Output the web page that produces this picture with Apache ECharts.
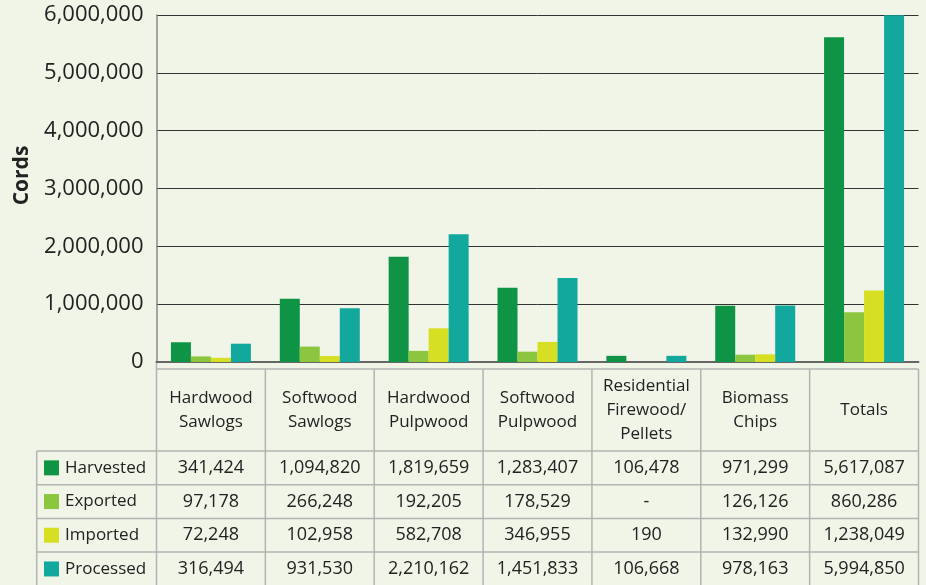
<!DOCTYPE html>
<html>
<head>
    <meta charset="UTF-8">
    <title>Wood Flows by Product</title>
    <script src="https://cdn.jsdelivr.net/npm/echarts/dist/echarts.min.js"></script>
    <style>
        body { margin: 0; background: #f0f5e8; }
    </style>
</head>
<body>
<div id="chart" style="width: 926px; height: 585px;"></div>

<script>
    const categories = ['Hardwood\nSawlogs', 'Softwood\nSawlogs', 'Hardwood\nPulpwood', 'Softwood\nPulpwood',
        'Residential\nFirewood/\nPellets', 'Biomass\nChips', 'Totals'];
    const seriesNames = ['Harvested', 'Exported', 'Imported', 'Processed'];
    const harvested = [341424, 1094820, 1819659, 1283407, 106478, 971299, 5617087];
    const exported = [97178, 266248, 192205, 178529, null, 126126, 860286];
    const imported = [72248, 102958, 582708, 346955, 190, 132990, 1238049];
    const processed = [316494, 931530, 2210162, 1451833, 106668, 978163, 5994850];
    const colors = ['#0e9444', '#8cc63f', '#d7df23', '#12a89d'];

    const allSeries = [harvested, exported, imported, processed];
    const font = '"Open Sans", sans-serif';

    const chart = echarts.init(document.getElementById('chart'));
    const option = {
        backgroundColor: '#f0f5e8',
        animation: false,
        grid: { left: 156.5, right: 7.5, top: 15, bottom: 223 },
        xAxis: {
            type: 'category',
            data: categories,
            axisLine: { lineStyle: { color: '#666', width: 2 } },
            axisTick: { show: false },
            axisLabel: { show: false }
        },
        yAxis: {
            type: 'value',
            min: 0,
            max: 6000000,
            interval: 1000000,
            name: 'Cords',
            nameLocation: 'middle',
            nameGap: 124,
            nameTextStyle: { fontFamily: font, fontWeight: 'bold', fontSize: 21, color: '#222', padding: [0, 0, 0, 26] },
            axisLine: { show: true, lineStyle: { color: '#888', width: 1.5 } },
            axisTick: { show: false },
            axisLabel: {
                margin: 13,
                fontFamily: font,
                fontSize: 22,
                color: '#222',
                formatter: v => v.toLocaleString('en-US')
            },
            splitLine: { lineStyle: { color: '#333', width: 1 } }
        },
        series: allSeries.map((data, i) => ({
            name: seriesNames[i],
            type: 'bar',
            data: data,
            barWidth: 20,
            barGap: '0%',
            itemStyle: { color: colors[i] }
        }))
    };
    chart.setOption(option);

    // table under the chart
    const x0 = chart.convertToPixel({ xAxisIndex: 0 }, 0);
    const x1 = chart.convertToPixel({ xAxisIndex: 0 }, 1);
    const colW = x1 - x0;
    const tableLeft = x0 - colW / 2;
    const tableRight = tableLeft + colW * categories.length;
    const labelLeft = 36.7;
    const headTop = 369, headBottom = 451, rowH = 33.7;
    const lineStyle = { stroke: '#b3b3b3', lineWidth: 1.5 };
    const textColor = '#222';

    const g = [];
    // horizontal lines
    g.push({ type: 'line', shape: { x1: tableLeft, y1: headTop, x2: tableRight, y2: headTop }, style: lineStyle });
    for (let r = 0; r <= 4; r++) {
        const y = headBottom + r * rowH;
        g.push({ type: 'line', shape: { x1: labelLeft, y1: y, x2: tableRight, y2: y }, style: lineStyle });
    }
    // vertical lines
    for (let c = 0; c <= categories.length; c++) {
        const x = tableLeft + c * colW;
        g.push({ type: 'line', shape: { x1: x, y1: c === 0 ? 362 : headTop, x2: x, y2: 585 }, style: lineStyle });
    }
    g.push({ type: 'line', shape: { x1: labelLeft, y1: headBottom, x2: labelLeft, y2: 585 }, style: lineStyle });

    // header texts
    categories.forEach((cat, i) => {
        const cx = chart.convertToPixel({ xAxisIndex: 0 }, i);
        g.push({
            type: 'text', x: cx, y: (headTop + headBottom) / 2,
            style: { text: cat, fill: textColor, font: '17px ' + font, align: 'center', verticalAlign: 'middle', lineHeight: 24 }
        });
    });

    // rows
    seriesNames.forEach((name, r) => {
        const cy = headBottom + r * rowH + rowH / 2;
        g.push({ type: 'rect', shape: { x: 44, y: cy - 7.5, width: 15, height: 15 }, style: { fill: colors[r] } });
        g.push({
            type: 'text', x: 65, y: cy,
            style: { text: name, fill: textColor, font: '17px ' + font, align: 'left', verticalAlign: 'middle' }
        });
        allSeries[r].forEach((v, i) => {
            const cx = chart.convertToPixel({ xAxisIndex: 0 }, i);
            g.push({
                type: 'text', x: cx, y: cy,
                style: { text: v == null ? '-' : v.toLocaleString('en-US'), fill: textColor, font: '18px ' + font, align: 'center', verticalAlign: 'middle' }
            });
        });
    });

    chart.setOption({ graphic: g });
</script>
</body>
</html>
